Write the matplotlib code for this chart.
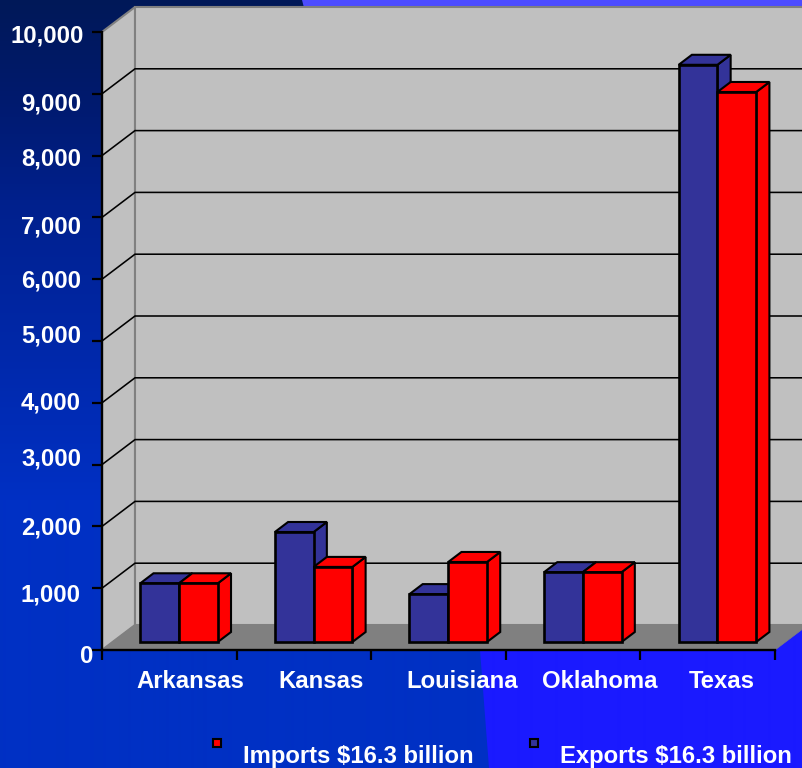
import numpy as np
import matplotlib
matplotlib.use('Agg')
import matplotlib.pyplot as plt
from matplotlib.patches import Polygon, PathPatch
from matplotlib.path import Path

plt.rcParams['font.family'] = ['Liberation Sans', 'DejaVu Sans']

states = ['Arkansas', 'Kansas', 'Louisiana', 'Oklahoma', 'Texas']
exports = [950, 1780, 775, 1130, 9340]
imports = [950, 1215, 1295, 1130, 8900]
y_ticks = [0, 1000, 2000, 3000, 4000, 5000, 6000, 7000, 8000, 9000, 10000]
legend_labels = ['Imports $16.3 billion', 'Exports $16.3 billion']

W, H = 803, 768
NAVY = '#333399'
RED = '#ff0000'

# 3d look: depth z (0 front, 1 back) shifts points up and to the right
DX = 33 / 134.6
DY = 404.5
BAR_W = 0.288
BAR_START = 0.206
Z0, Z1 = 0.32, 0.72


def proj(x, y, z):
    return x + z * DX, y + z * DY


def gradient(stops_y, stops_rgb):
    ys = np.arange(H)
    rows = [np.interp(ys, stops_y, [c[i] for c in stops_rgb]) for i in range(3)]
    return np.stack(rows, axis=1)[:, None, :] / 255


def face(ax, pts, color, lw=1.5, ec='black', z=3):
    ax.add_patch(Polygon(pts, closed=True, facecolor=color, edgecolor=ec,
                         linewidth=lw, joinstyle='miter', clip_on=False, zorder=z))


def draw_bar(ax, x, val, color, z):
    x2 = x + BAR_W
    face(ax, [proj(x2, 0, Z0), proj(x2, 0, Z1), proj(x2, val, Z1), proj(x2, val, Z0)], color, z=z)
    face(ax, [proj(x, val, Z0), proj(x2, val, Z0), proj(x2, val, Z1), proj(x, val, Z1)], color, z=z)
    face(ax, [proj(x, 0, Z0), proj(x2, 0, Z0), proj(x2, val, Z0), proj(x, val, Z0)], color, lw=1.9, z=z)


fig = plt.figure(figsize=(W / 100, H / 100), dpi=100)

# slide background
bg = fig.add_axes([0, 0, 1, 1])
bg.set_xlim(0, W)
bg.set_ylim(H, 0)
bg.axis('off')
left_grad = gradient([0, 100, 200, 350, 500, 768],
                     [(0, 24, 88), (0, 26, 110), (0, 32, 140), (0, 40, 170), (0, 48, 196), (0, 48, 196)])
right_grad = gradient([0, 30, 300, 768],
                      [(77, 77, 255), (70, 70, 255), (26, 26, 255), (26, 26, 255)])
bg.imshow(left_grad, extent=(0, W, H, 0), aspect='auto', interpolation='bilinear')
im = bg.imshow(right_grad, extent=(0, W, H, 0), aspect='auto', interpolation='bilinear')
edge = Path([(302, 0), (350, 190), (470, 500), (480, 650), (489, 768), (W, H), (W, 0), (302, 0)],
            [Path.MOVETO, Path.CURVE3, Path.CURVE3, Path.LINETO, Path.LINETO,
             Path.LINETO, Path.LINETO, Path.CLOSEPOLY])
clip = PathPatch(edge, transform=bg.transData, facecolor='none', edgecolor='none')
bg.add_patch(clip)
im.set_clip_path(clip)
bg.set_xlim(0, W)
bg.set_ylim(H, 0)

ax = fig.add_axes([102 / W, (H - 650) / H, 673 / W, 618 / H])
ax.set_xlim(0, 5)
ax.set_ylim(0, 10000)
ax.patch.set_visible(False)
ax.set_zorder(2)

# walls and floor
face(ax, [proj(0, 0, 0), proj(0, 0, 1), proj(0, 10000, 1), proj(0, 10000, 0)], '#c0c0c0', ec='#808080', lw=1.5, z=1)
face(ax, [proj(0, 0, 1), proj(5, 0, 1), proj(5, 10000, 1), proj(0, 10000, 1)], '#c0c0c0', ec='#808080', lw=1.5, z=1)
face(ax, [proj(0, 0, 0), proj(5, 0, 0), proj(5, 0, 1), proj(0, 0, 1)], '#808080', ec='#808080', lw=0.5, z=1.2)

for v in y_ticks[1:-1]:
    xs, ys = zip(proj(0, v, 0), proj(0, v, 1), proj(5, v, 1))
    ax.plot(xs, ys, color='black', lw=1.15, clip_on=False, zorder=1.5, solid_joinstyle='miter')

for i in range(len(states)):
    x = i + BAR_START
    draw_bar(ax, x, exports[i], NAVY, 3)
    draw_bar(ax, x + BAR_W, imports[i], RED, 3.1)

for s in ['top', 'right']:
    ax.spines[s].set_visible(False)
for s in ['left', 'bottom']:
    ax.spines[s].set_color('black')
    ax.spines[s].set_linewidth(1.7)
    ax.spines[s].set_zorder(4)
ax.set_xticks(range(6))
ax.set_yticks(y_ticks)
ax.tick_params(length=7.2, width=1.6, color='black', labelleft=False, labelbottom=False)

# tick labels sit unevenly in the original, offsets are in pixels
y_off = [(12, -6.5), (0, -6.5), (0, -1.5), (0, 5.5), (0, -0.5), (0, 5.5), (0, -1.5), (0, -9.5), (0, -3.5), (0, -10.5), (3, -4.5)]
for v, (ox, oy) in zip(y_ticks, y_off):
    ax.annotate(f'{v:,}', (0, v), xytext=((-21 + ox) * 0.72, oy * 0.72), textcoords='offset points',
                ha='right', va='center', color='white', fontsize=17.2, fontweight='bold',
                annotation_clip=False, zorder=5)

x_off = [21.5, 17, 24, 26.5, 14]
for i, name in enumerate(states):
    ax.annotate(name, (i + 0.5, 0), xytext=(x_off[i] * 0.72, -32 * 0.72), textcoords='offset points',
                ha='center', va='center', color='white', fontsize=17.2, fontweight='bold',
                annotation_clip=False)

# legend
for label, col, mx, tx in zip(legend_labels, [RED, NAVY], [217, 534], [243, 560]):
    bg.plot([mx], [743], marker='s', ms=6.2, mfc=col, mec='black', mew=1.5, ls='none', zorder=5)
    bg.text(tx, 756.5, label, color='white', fontsize=17.2, fontweight='bold', ha='left', va='center', zorder=5)

fig.savefig('out.png', dpi=100)
